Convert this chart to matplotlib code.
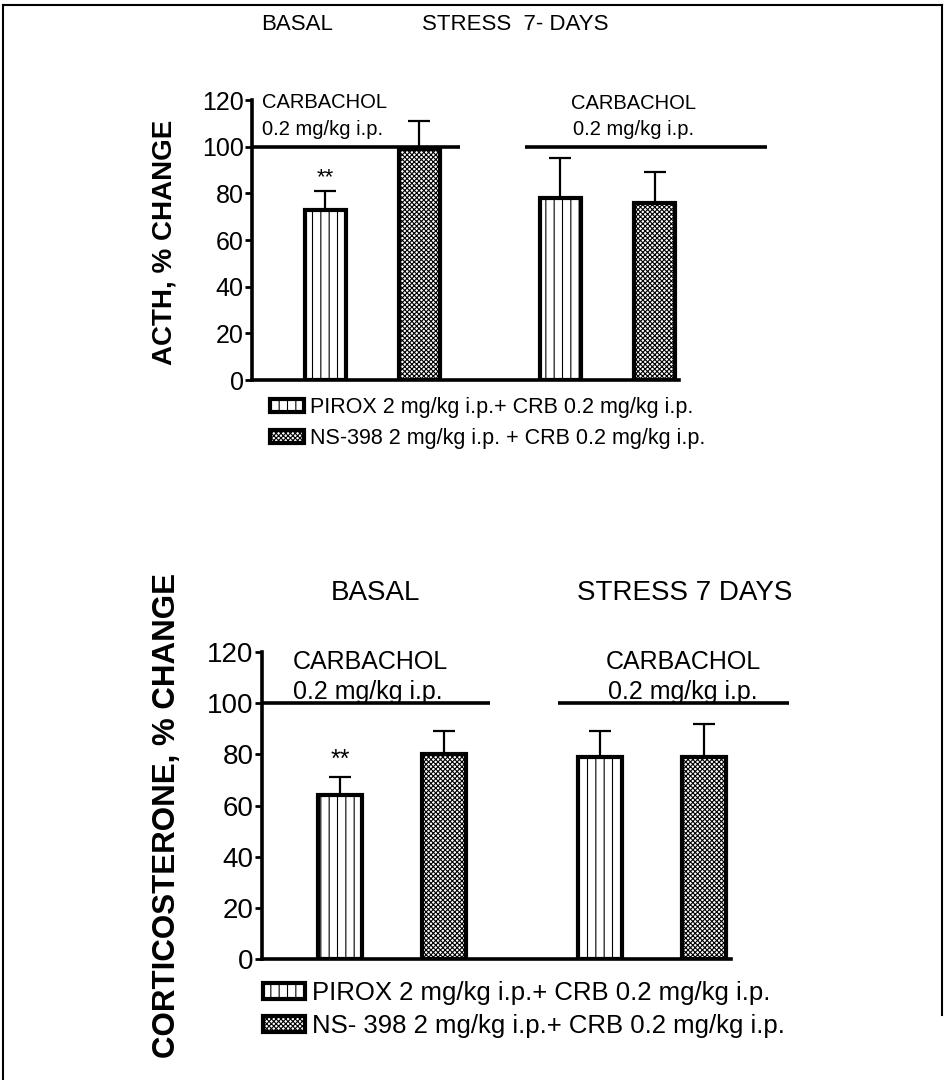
import matplotlib
matplotlib.use('Agg')
import matplotlib.pyplot as plt
from matplotlib.patches import Patch
from matplotlib.lines import Line2D
import numpy as np

plt.rcParams['font.family'] = ['Liberation Sans', 'DejaVu Sans']
plt.rcParams['hatch.linewidth'] = 0.8

# bar positions: basal group, then stress group
pirox_pos = [1, 3.5]
ns_pos = [2, 4.5]

# ACTH (% change)
acth_pirox = [73, 78]
acth_pirox_err = [8, 17]
acth_ns = [99, 76]
acth_ns_err = [12, 13]

# corticosterone (% change)
cort_pirox = [64, 79]
cort_pirox_err = [7, 10]
cort_ns = [80, 79]
cort_ns_err = [9, 13]

yticks = [0, 20, 40, 60, 80, 100, 120]
carb_level = 100
lab_pirox = 'PIROX 2 mg/kg i.p.+ CRB 0.2 mg/kg i.p.'
lab_ns_top = 'NS-398 2 mg/kg i.p. + CRB 0.2 mg/kg i.p.'
lab_ns_bot = 'NS- 398 2 mg/kg i.p.+ CRB 0.2 mg/kg i.p.'

fig = plt.figure(figsize=(9.51, 10.8), dpi=100)
ax1 = fig.add_axes([252/951, 1-380/1080, 427/951, 280/1080])
ax2 = fig.add_axes([262/951, 1-959/1080, 469/951, 307/1080])


def draw_panel(ax, p_vals, p_err, n_vals, n_err, xlim, lines, fs_tick, bw):
    ax.bar(pirox_pos, p_vals, width=bw, color='white', edgecolor='black',
           linewidth=3, hatch='||', zorder=3)
    ax.bar(ns_pos, n_vals, width=bw, color='white', edgecolor='black',
           linewidth=3, hatch='xxxxxxx', zorder=3)
    ax.errorbar(pirox_pos, p_vals, yerr=[np.zeros(2), p_err], fmt='none',
                ecolor='black', elinewidth=1.6, capsize=8, capthick=1.6, zorder=2)
    ax.errorbar(ns_pos, n_vals, yerr=[np.zeros(2), n_err], fmt='none',
                ecolor='black', elinewidth=1.6, capsize=8, capthick=1.6, zorder=2)
    for xs in lines:
        ax.plot(xs, [carb_level, carb_level], color='black', lw=2.6,
                clip_on=False, zorder=4, solid_capstyle='butt')
    ax.set_xlim(xlim)
    ax.set_ylim(0, 120)
    ax.set_yticks(yticks)
    ax.set_xticks([])
    for s in ['top', 'right']:
        ax.spines[s].set_visible(False)
    for s in ['left', 'bottom']:
        ax.spines[s].set_linewidth(2.6)
    ax.tick_params(axis='y', direction='out', length=5, width=2,
                   labelsize=fs_tick, pad=1)


draw_panel(ax1, acth_pirox, acth_pirox_err, acth_ns, acth_ns_err,
           (0.22, 4.76), [[0.22, 2.43], [3.12, 5.7]], 18, 0.44)
draw_panel(ax2, cort_pirox, cort_pirox_err, cort_ns, cort_ns_err,
           (0.25, 4.76), [[0.25, 2.44], [3.1, 5.32]], 20, 0.43)

# significance marks
ax1.text(1, 82, '**', ha='center', va='bottom', fontsize=16)
ax2.text(1, 73, '**', ha='center', va='bottom', fontsize=18)

# carbachol labels
ax1.text(0.33, 119, 'CARBACHOL', ha='left', va='center', fontsize=14.5, clip_on=False)
ax1.text(0.33, 107.5, '0.2 mg/kg i.p.', ha='left', va='center', fontsize=14.5)
ax1.text(4.28, 118.5, 'CARBACHOL', ha='center', va='center', fontsize=14.5, clip_on=False)
ax1.text(4.28, 107.5, '0.2 mg/kg i.p.', ha='center', va='center', fontsize=14.5)
ax2.text(0.55, 116, 'CARBACHOL', ha='left', va='center', fontsize=18)
ax2.text(0.55, 101.5, '0.2 mg/kg i.p.', ha='left', va='baseline', fontsize=18, zorder=1)
ax2.text(4.3, 116, 'CARBACHOL', ha='center', va='center', fontsize=18)
ax2.text(4.3, 101.5, '0.2 mg/kg i.p.', ha='center', va='baseline', fontsize=18, zorder=1)

# group titles
fig.text(297/951, 1-25/1080, 'BASAL', ha='center', va='center', fontsize=16)
fig.text(515/951, 1-25/1080, 'STRESS  7- DAYS', ha='center', va='center', fontsize=16)
fig.text(375/951, 1-593/1080, 'BASAL', ha='center', va='center', fontsize=20)
fig.text(685/951, 1-593/1080, 'STRESS 7 DAYS', ha='center', va='center', fontsize=20)

# y labels
fig.text(165/951, 1-242/1080, 'ACTH, % CHANGE', rotation=90, ha='center',
         va='center', fontsize=20, fontweight='bold')
fig.text(167/951, 1-815/1080, 'CORTICOSTERONE, % CHANGE', rotation=90, ha='center',
         va='center', fontsize=22.5, fontweight='bold')

# legends
h_p = Patch(facecolor='white', edgecolor='black', hatch='||', linewidth=3)
h_n = Patch(facecolor='white', edgecolor='black', hatch='xxxxxxx', linewidth=3)
ax1.legend([h_p, h_n], [lab_pirox, lab_ns_top], loc='upper left',
           bbox_to_anchor=(270/951, 1-397/1080), bbox_transform=fig.transFigure,
           frameon=False, fontsize=15.5, handlelength=1.6, handleheight=0.55,
           handletextpad=0.25, labelspacing=0.45, borderpad=0, borderaxespad=0)
ax2.legend([h_p, h_n], [lab_pirox, lab_ns_bot], loc='upper left',
           bbox_to_anchor=(263/951, 1-981/1080), bbox_transform=fig.transFigure,
           frameon=False, fontsize=18.5, handlelength=1.65, handleheight=0.55,
           handletextpad=0.25, labelspacing=0.35, borderpad=0, borderaxespad=0)

# outer frame
fig.add_artist(Line2D([3/951, 3/951], [0, 1-5/1080], color='black', lw=1.5))
fig.add_artist(Line2D([3/951, 942/951], [1-5/1080, 1-5/1080], color='black', lw=1.5))
fig.add_artist(Line2D([942/951, 942/951], [1-1015/1080, 1-5/1080], color='black', lw=1.5))

fig.savefig('out.png', dpi=100)
